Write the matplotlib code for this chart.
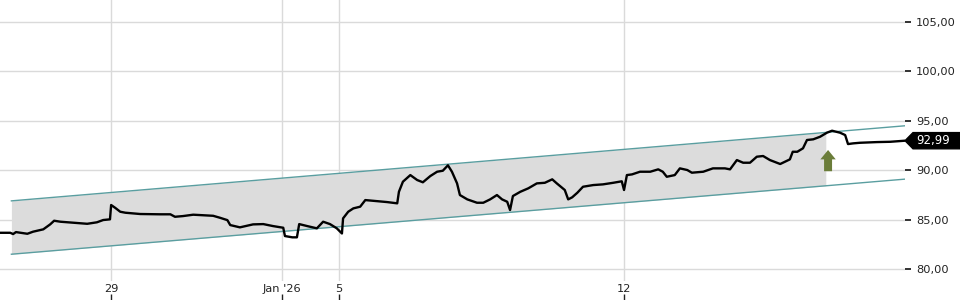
import matplotlib
matplotlib.use("Agg")
import matplotlib.pyplot as plt
import numpy as np
from matplotlib.patches import Polygon, FancyArrow
from matplotlib.ticker import FuncFormatter
import matplotlib.transforms as mtransforms

# ---- data (x in trading days from Dec 29) ----
days = [-1.95, -1.77, -1.72, -1.67, -1.47, -1.37, -1.19, -1.07, -1.00, -0.89,
        -0.67, -0.42, -0.25, -0.14, -0.02, 0.00, 0.07, 0.16, 0.25, 0.51,
        0.86, 1.04, 1.12, 1.26, 1.44, 1.79, 1.91, 2.04, 2.09, 2.26,
        2.49, 2.67, 2.84, 3.02, 3.05, 3.18, 3.26, 3.30, 3.44, 3.61,
        3.72, 3.84, 3.96, 4.05, 4.07, 4.16, 4.25, 4.37, 4.46, 4.60,
        4.84, 5.02, 5.05, 5.12, 5.25, 5.37, 5.47, 5.60, 5.72, 5.82,
        5.91, 5.98, 6.07, 6.12, 6.25, 6.42, 6.53, 6.65, 6.77, 6.86,
        6.95, 7.00, 7.05, 7.18, 7.32, 7.47, 7.61, 7.74, 7.82, 7.96,
        8.02, 8.09, 8.18, 8.28, 8.46, 8.63, 8.81, 8.96, 9.00, 9.05,
        9.14, 9.28, 9.46, 9.60, 9.68, 9.75, 9.89, 9.98, 10.11, 10.19,
        10.39, 10.56, 10.77, 10.86, 10.98, 11.09, 11.21, 11.33, 11.44, 11.56,
        11.74, 11.91, 11.96, 12.04, 12.14, 12.21, 12.32, 12.44, 12.56, 12.65,
        12.79, 12.88, 12.93, 13.02, 13.14, 13.44, 13.67, 13.93]
prices = [83.67, 83.67, 83.54, 83.74, 83.57, 83.78, 84.02, 84.52, 84.89, 84.79,
          84.69, 84.58, 84.73, 84.96, 85.03, 86.48, 86.20, 85.80, 85.70, 85.57,
          85.54, 85.54, 85.29, 85.36, 85.50, 85.39, 85.19, 84.95, 84.45, 84.22,
          84.52, 84.55, 84.35, 84.18, 83.34, 83.21, 83.21, 84.55, 84.35, 84.12,
          84.79, 84.55, 84.12, 83.60, 85.13, 85.80, 86.14, 86.31, 86.98, 86.91,
          86.78, 86.65, 87.82, 88.84, 89.51, 89.01, 88.78, 89.41, 89.85, 89.95,
          90.50, 89.85, 88.67, 87.49, 87.05, 86.71, 86.71, 87.05, 87.49, 87.05,
          86.81, 85.97, 87.39, 87.82, 88.17, 88.67, 88.73, 89.08, 88.67, 88.00,
          87.05, 87.26, 87.72, 88.33, 88.50, 88.57, 88.73, 88.88, 88.00, 89.51,
          89.58, 89.85, 89.85, 90.09, 89.85, 89.34, 89.51, 90.19, 90.02, 89.75,
          89.85, 90.19, 90.19, 90.09, 91.03, 90.76, 90.76, 91.37, 91.44, 91.03,
          90.63, 91.10, 91.87, 91.87, 92.22, 93.06, 93.13, 93.39, 93.80, 94.00,
          93.80, 93.56, 92.65, 92.72, 92.78, 92.85, 92.88, 92.99]

channel_days = [-1.75, 13.93]
channel_upper = [86.9, 94.5]
channel_lower = [81.5, 89.1]
channel_fill_end = 12.54

signal_day = 12.58
signal_from = 89.9
signal_to = 92.05

tick_days = [0, 3, 4, 9]
tick_labels = ["29", "Jan '26", "5", "12"]
y_ticks = [80, 85, 90, 95, 100, 105]
last_price = prices[-1]

# ---- figure ----
W, H = 960, 300
fig = plt.figure(figsize=(9.6, 3.0), dpi=100)
ax_left, ax_right, ax_bottom, ax_top = 0, 905, 281, 0
ax = fig.add_axes([ax_left / W, (H - ax_bottom) / H,
                   (ax_right - ax_left) / W, (ax_bottom - ax_top) / H])
ax.set_xlim(-1.95, 13.93)
ax.set_ylim(78.79, 107.23)

for s in ax.spines.values():
    s.set_visible(False)

grid_c = "#dadada"
ax.set_yticks(y_ticks)
ax.yaxis.set_major_formatter(FuncFormatter(lambda v, p: f"{v:.2f}".replace(".", ",")))
ax.yaxis.tick_right()
ax.tick_params(axis="y", direction="out", length=4, width=1.3, color="#222222",
               pad=4, labelsize=8.2, labelcolor="#222222")
ax.set_xticks(tick_days)
ax.set_xticklabels(tick_labels)
ax.tick_params(axis="x", length=0, pad=2, labelsize=8.2, labelcolor="#222222")
ax.grid(True, color=grid_c, linewidth=1.0, zorder=0)
ax.set_axisbelow(True)

# small tick marks at figure bottom
sec = ax.secondary_xaxis(-(H - ax_bottom) / (ax_bottom - ax_top))
sec.set_xticks(tick_days)
sec.set_xticklabels([""] * len(tick_days))
sec.tick_params(direction="in", length=4, width=1.0, color="#222222")
sec.spines["bottom"].set_visible(False)

# channel
cx = np.array(channel_days)
up_slope = (channel_upper[1] - channel_upper[0]) / (cx[1] - cx[0])
lo_slope = (channel_lower[1] - channel_lower[0]) / (cx[1] - cx[0])
fx = np.array([channel_days[0], channel_fill_end])
ax.fill_between(fx, channel_upper[0] + up_slope * (fx - cx[0]),
                channel_lower[0] + lo_slope * (fx - cx[0]),
                color="#dcdcdc", linewidth=0, zorder=1)
teal = "#5a9ea0"
ax.plot(channel_days, channel_upper, color=teal, lw=1.0, zorder=2)
ax.plot(channel_days, channel_lower, color=teal, lw=1.0, zorder=2)

# price
ax.plot(days, prices, color="black", lw=1.7, zorder=3)

# signal arrow
ax.add_patch(FancyArrow(signal_day, signal_from, 0, signal_to - signal_from,
                        width=0.14, head_width=0.27, head_length=0.95,
                        length_includes_head=True, color="#6b7d3a", lw=0, zorder=4))

# last price label
trans = mtransforms.blended_transform_factory(fig.transFigure, ax.transData)
hh = 0.82
poly = Polygon([(905 / W, last_price), (913 / W, last_price + hh),
                (1.0, last_price + hh), (1.0, last_price - hh),
                (913 / W, last_price - hh)], closed=True,
               transform=trans, color="black", clip_on=False, zorder=5)
fig.add_artist(poly)
fig.text(916 / W, last_price, f"{last_price:.2f}".replace(".", ","), transform=trans,
         color="white", fontsize=8.5, va="center", ha="left", zorder=6)

fig.savefig("out.png", dpi=100)
